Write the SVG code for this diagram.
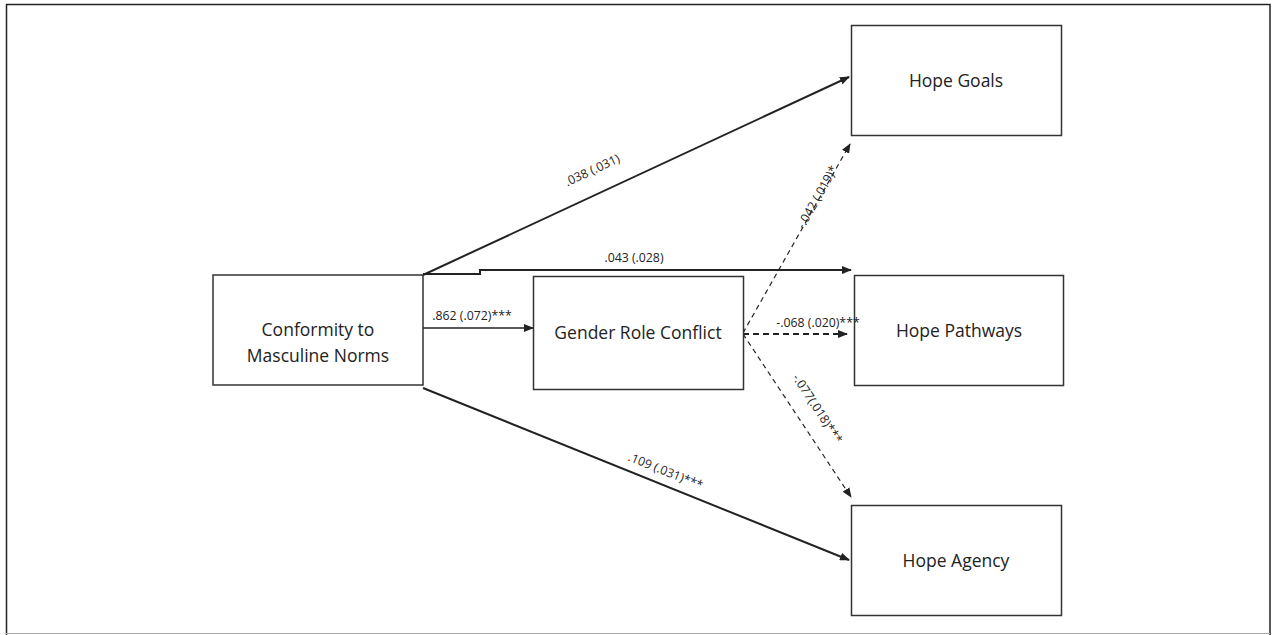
<svg xmlns="http://www.w3.org/2000/svg" width="1273" height="635" viewBox="0 0 1273 635">
<style>
.box{fill:#fff;stroke:#333;stroke-width:1.5}
.t{font-family:"Open Sans","Liberation Sans",sans-serif;font-size:17.5px;fill:#222;text-anchor:middle}
.l{font-family:"Open Sans","Liberation Sans",sans-serif;font-size:12.3px;fill:#222;text-anchor:middle}
.s{fill:none;stroke:#222;stroke-width:2}
.s1{fill:none;stroke:#222;stroke-width:1.3}
.d{fill:none;stroke:#222;stroke-width:1.2;stroke-dasharray:5,4}
.d2{fill:none;stroke:#222;stroke-width:1.8;stroke-dasharray:6,4}
</style>
<defs>
<marker id="a" markerWidth="10" markerHeight="8" refX="9" refY="4" orient="auto" markerUnits="userSpaceOnUse">
<path d="M0,0 L10,4 L0,8 Z" fill="#222"/>
</marker>
</defs>
<rect x="0" y="0" width="1273" height="635" fill="#fff"/>
<path d="M6.5,635 V4.5 H1270 V635" fill="none" stroke="#222" stroke-width="1.5"/>
<line x1="6" y1="633.5" x2="1270" y2="633.5" stroke="#aaa" stroke-width="1"/>
<g id="connectors">
<line class="s" x1="423" y1="275" x2="849" y2="77" marker-end="url(#a)"/>
<polyline class="s" points="423,274 480,274 480,270 851,270" marker-end="url(#a)"/>
<line class="s1" x1="423" y1="328" x2="533" y2="328" marker-end="url(#a)"/>
<line class="s" x1="423" y1="388" x2="849" y2="560" marker-end="url(#a)"/>
<line class="d" x1="743" y1="333" x2="850" y2="144" marker-end="url(#a)"/>
<line class="d2" x1="743" y1="334" x2="847" y2="334" marker-end="url(#a)"/>
<line class="d" x1="743" y1="334" x2="851" y2="497" marker-end="url(#a)"/>
</g>
<g id="cmn"><rect class="box" x="213" y="275" width="210" height="110"/><text class="t" x="318" y="336">Conformity to</text><text class="t" x="318" y="362">Masculine Norms</text></g>
<g id="grc"><rect class="box" x="533.5" y="276.5" width="210" height="113"/><text class="t" x="638" y="339">Gender Role Conflict</text></g>
<g id="goals"><rect class="box" x="851.5" y="25.5" width="210" height="110"/><text class="t" x="956" y="87">Hope Goals</text></g>
<g id="pathways"><rect class="box" x="854.5" y="275.5" width="209" height="110"/><text class="t" x="959" y="337">Hope Pathways</text></g>
<g id="agency"><rect class="box" x="851.5" y="505.5" width="210" height="110"/><text class="t" x="956" y="567">Hope Agency</text></g>
<g id="labels">
<text class="l" transform="translate(594,174) rotate(-24.9)">.038 (.031)</text>
<text class="l" x="634" y="262">.043 (.028)</text>
<text class="l" x="472" y="320">.862 (.072)***</text>
<text class="l" x="818" y="327">-.068 (.020)***</text>
<text class="l" transform="translate(821,199) rotate(-60.5)">-.042 (.019)*</text>
<text class="l" transform="translate(814,411) rotate(56.7)">-.077(.018)***</text>
<text class="l" transform="translate(664,475) rotate(21.9)">.109 (.031)***</text>
</g>
</svg>
